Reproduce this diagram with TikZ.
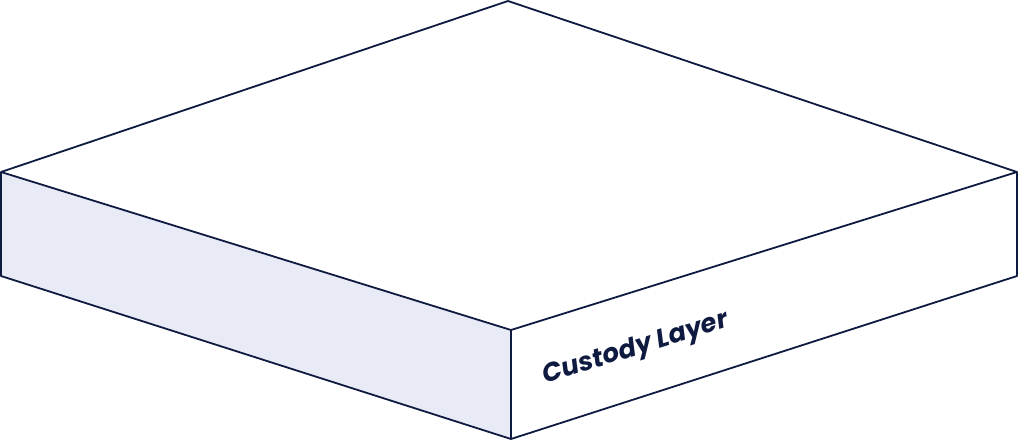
\documentclass[tikz,border=0pt]{standalone}
\usepackage{fontspec}
\newfontfamily\pop{Poppins}
\definecolor{ink}{HTML}{0F1A40}
\definecolor{sidefill}{HTML}{E8EAF6}
\begin{document}
\begin{tikzpicture}[x=1pt,y=-1pt,
  edge/.style={draw=ink,line width=1.8pt,line join=round},
  label/.style={text=ink,font=\pop\bfseries\itshape\fontsize{26}{30}\selectfont,rotate=17.3,inner sep=0pt}]
\useasboundingbox (0,0) rectangle (1019,441);
\coordinate (T) at (508,1);
\coordinate (L) at (1,172);
\coordinate (R) at (1017,172);
\coordinate (F) at (511,330);
\coordinate (LB) at (1,276);
\coordinate (RB) at (1017,276);
\coordinate (FB) at (511,439);
\fill[sidefill] (L) -- (F) -- (FB) -- (LB) -- cycle;
\path[edge] (T) -- (R) -- (F) -- (L) -- cycle;
\path[edge] (L) -- (LB) -- (FB) -- (RB) -- (R);
\path[edge] (F) -- (FB);
\node[label] (lab) at (636,349) {Custody Layer};
\end{tikzpicture}
\end{document}
